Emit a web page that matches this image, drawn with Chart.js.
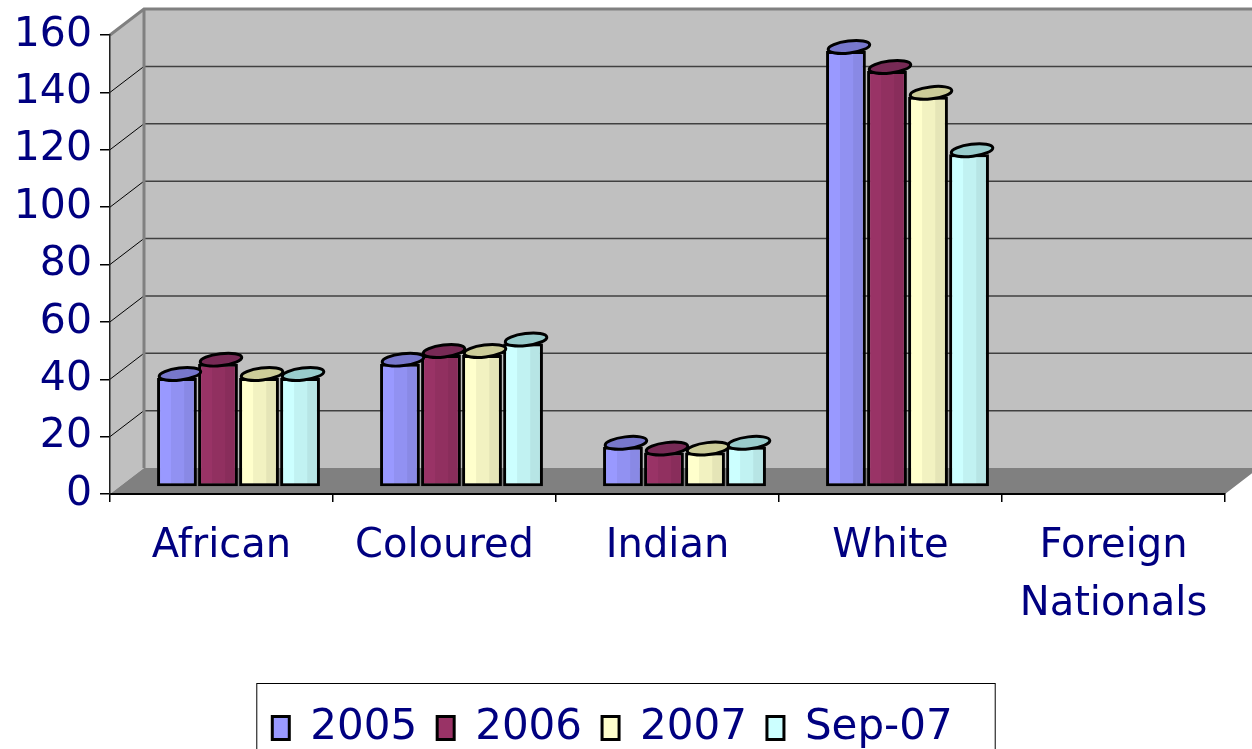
<!DOCTYPE html>
<html>
<head>
<meta charset="utf-8">
<script src="https://cdn.jsdelivr.net/npm/chart.js@4.4.1/dist/chart.umd.min.js"></script>
<style>
    html, body { margin: 0; padding: 0; background: #fff; overflow: hidden; }
    #wrap { width: 1252px; height: 759px; }
</style>
</head>
<body>
<div id="wrap"><canvas id="chart"></canvas></div>
<script>
// data
const categories = ['African', 'Coloured', 'Indian', 'White', ['Foreign', 'Nationals']];
const seriesNames = ['2005', '2006', '2007', 'Sep-07'];
const values2005 = [38, 43, 14, 152, 0];
const values2006 = [43, 46, 12, 145, 0];
const values2007 = [38, 46, 12, 136, 0];
const valuesSep07 = [38, 50, 14, 116, 0];
const yMin = 0, yMax = 160, yStep = 20;

const fronts = ['#9999FF', '#993366', '#FFFFCC', '#CCFFFF'];
const tops = ['#7777CC', '#772A55', '#CCCC99', '#99CCCC'];
const navy = '#000080';
const fontFamily = '"DejaVu Sans", Verdana, sans-serif';

// 3D look: back wall offset and bar depth offset
const DX = 34, DY = 26;
const BAR_DX = 17, BAR_DY = -7;

const wallsPlugin = {
    id: 'walls',
    beforeDraw(chart) {
        const { ctx, chartArea: a, scales: { y } } = chart;
        const W = chart.width;
        ctx.save();
        ctx.fillStyle = '#C0C0C0';
        ctx.fillRect(a.left + DX, a.top - DY, W - a.left - DX, a.bottom - a.top);
        ctx.beginPath();
        ctx.moveTo(a.left, a.top);
        ctx.lineTo(a.left + DX, a.top - DY);
        ctx.lineTo(a.left + DX, a.bottom - DY);
        ctx.lineTo(a.left, a.bottom);
        ctx.closePath();
        ctx.fill();

        ctx.fillStyle = '#808080';
        ctx.beginPath();
        ctx.moveTo(a.left, a.bottom);
        ctx.lineTo(a.right, a.bottom);
        ctx.lineTo(a.right + DX, a.bottom - DY);
        ctx.lineTo(W + 10, a.bottom - DY);
        ctx.lineTo(a.left + DX, a.bottom - DY);
        ctx.closePath();
        ctx.fill();

        y.ticks.forEach(t => {
            if (t.value <= yMin || t.value >= yMax) return;
            const py = y.getPixelForValue(t.value);
            ctx.strokeStyle = '#000';
            ctx.lineWidth = 1;
            ctx.beginPath();
            ctx.moveTo(a.left, py);
            ctx.lineTo(a.left + DX, py - DY);
            ctx.stroke();
            ctx.strokeStyle = '#404040';
            ctx.lineWidth = 1.5;
            ctx.beginPath();
            ctx.moveTo(a.left + DX, py - DY);
            ctx.lineTo(W, py - DY);
            ctx.stroke();
        });

        // wall edges
        ctx.strokeStyle = '#808080';
        ctx.lineWidth = 3;
        ctx.beginPath();
        ctx.moveTo(a.left, a.top);
        ctx.lineTo(a.left + DX, a.top - DY);
        ctx.lineTo(W, a.top - DY);
        ctx.moveTo(a.left + DX, a.top - DY);
        ctx.lineTo(a.left + DX, a.bottom - DY);
        ctx.stroke();
        ctx.restore();
    },
    beforeDatasetsDraw(chart) {
        chart.ctx.save();
        chart.ctx.translate(BAR_DX, BAR_DY);
    },
    afterDatasetsDraw(chart) {
        const ctx = chart.ctx;
        chart.data.datasets.forEach((ds, i) => {
            const meta = chart.getDatasetMeta(i);
            meta.data.forEach((bar, j) => {
                if (!ds.data[j]) return;
                const p = bar.getProps(['x', 'y', 'base', 'width'], true);
                const l = p.x - p.width / 2, r = p.x + p.width / 2;
                // side shading
                ctx.fillStyle = 'rgba(0,0,0,0.05)';
                ctx.fillRect(l + p.width * 0.35, p.y + 2, r - l - p.width * 0.35 - 2, p.base - p.y - 4);
                ctx.fillRect(l + p.width * 0.68, p.y + 2, r - l - p.width * 0.68 - 2, p.base - p.y - 4);
                // top face
                ctx.beginPath();
                ctx.ellipse(p.x + 3, p.y - 4, p.width / 2 + 1, 6, -0.12, 0, Math.PI * 2);
                ctx.fillStyle = tops[i];
                ctx.fill();
                ctx.lineWidth = 3;
                ctx.strokeStyle = '#000';
                ctx.stroke();
            });
        });
        ctx.restore();
    }
};

const legendFramePlugin = {
    id: 'legendFrame',
    afterDraw(chart) {
        const lg = chart.legend;
        if (!lg || !lg.legendHitBoxes.length) return;
        const boxes = lg.legendHitBoxes;
        const left = boxes[0].left - 16;
        const last = boxes[boxes.length - 1];
        const right = last.left + last.width + 42;
        const ctx = chart.ctx;
        ctx.save();
        ctx.strokeStyle = '#000';
        ctx.lineWidth = 1;
        ctx.strokeRect(left + 0.5, 683.5, right - left, 100);
        ctx.restore();
    }
};

const seriesValues = [values2005, values2006, values2007, valuesSep07];

new Chart(document.getElementById('chart'), {
    type: 'bar',
    data: {
        labels: categories,
        datasets: seriesNames.map((name, i) => ({
            label: name,
            data: seriesValues[i],
            backgroundColor: fronts[i],
            borderColor: '#000',
            borderWidth: ctx => (ctx.raw ? 3 : 0),
            borderSkipped: false,
            categoryPercentage: 0.736,
            barPercentage: 0.97
        }))
    },
    options: {
        responsive: true,
        maintainAspectRatio: false,
        animation: false,
        layout: { padding: { top: 35, right: 27, left: 0, bottom: 0 } },
        plugins: {
            tooltip: { enabled: false },
            legend: {
                position: 'bottom',
                labels: {
                    color: navy,
                    font: { family: fontFamily, size: 42 },
                    boxWidth: 17,
                    boxHeight: 23,
                    padding: 20
                }
            }
        },
        scales: {
            x: {
                afterFit: s => { s.height = 193; },
                border: { color: '#000', width: 2 },
                grid: { offset: true, drawOnChartArea: false, tickLength: 8, color: '#000', lineWidth: 1.5 },
                ticks: {
                    color: navy,
                    padding: 16,
                    maxRotation: 0,
                    autoSkip: false,
                    font: { family: fontFamily, size: 40, lineHeight: 1.45 }
                }
            },
            y: {
                min: yMin,
                max: yMax,
                afterFit: s => { s.width = 110; },
                border: { color: '#202020', width: 1.5 },
                grid: { drawOnChartArea: false, tickLength: 10, color: '#000', lineWidth: 1.5 },
                ticks: {
                    stepSize: yStep,
                    color: navy,
                    padding: 8,
                    font: { family: fontFamily, size: 41 }
                }
            }
        }
    },
    plugins: [wallsPlugin, legendFramePlugin]
});
</script>
</body>
</html>
